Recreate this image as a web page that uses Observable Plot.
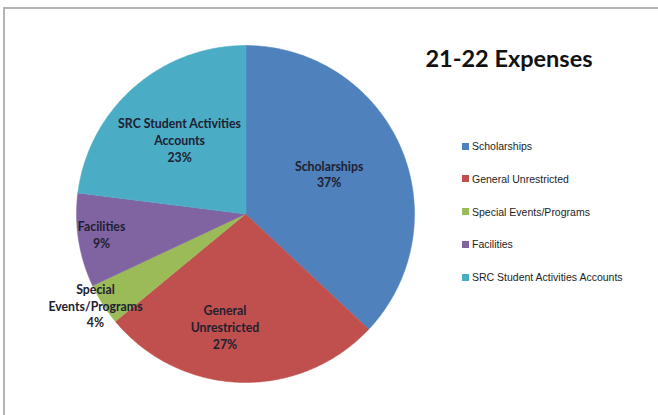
<!DOCTYPE html>
<html>
<head>
<meta charset="utf-8">
<script src="https://cdn.jsdelivr.net/npm/d3@7"></script>
<script src="https://cdn.jsdelivr.net/npm/@observablehq/plot@0.6"></script>
<style>
  html, body { margin: 0; padding: 0; background: #fff; }
  #wrap { position: relative; width: 658px; height: 415px; overflow: hidden; }
  #frame { position: absolute; left: 3px; top: 7px; width: 700px; height: 500px;
           border-left: 2px solid #b4b4b4; border-top: 2px solid #b4b4b4; box-sizing: border-box; }
  #chart { position: absolute; left: 0; top: 0; }
  #title { position: absolute; left: 406px; top: 44px; width: 206px; text-align: center;
           font-family: Lato, "Open Sans", sans-serif; font-weight: bold; font-size: 23.5px; color: #111; }
  #legend { position: absolute; left: 462px; top: 138px; font-family: "Liberation Sans", Arial, sans-serif;
            font-size: 10.5px; color: #222; }
  .item { display: flex; align-items: center; height: 16px; margin-bottom: 16.8px; white-space: nowrap; }
  .sw { width: 7px; height: 7px; margin-right: 3px; }
</style>
</head>
<body>
<div id="wrap">
  <div id="frame"></div>
  <div id="chart"></div>
  <div id="title"></div>
  <div id="legend"></div>
</div>
<script>
const title = "21-22 Expenses";
const categories = ["Scholarships", "General Unrestricted", "Special Events/Programs", "Facilities", "SRC Student Activities Accounts"];
const labels = ["Scholarships", "General\nUnrestricted", "Special\nEvents/Programs", "Facilities", "SRC Student Activities\nAccounts"];
const values = [37, 27, 4, 9, 23];
const colors = ["#4F81BD", "#C0504D", "#9BBB59", "#8064A2", "#4BACC6"];

const data = categories.map((c, i) => ({category: c, label: labels[i], value: values[i]}));
const total = d3.sum(values);
const arcs = d3.pie().value(d => d.value).sort(null)(data);

// polygon points for each slice (unit radius, angle clockwise from top)
const poly = [];
arcs.forEach(a => {
  const c = a.data.category;
  poly.push({category: c, x: 0, y: 0});
  const n = Math.max(2, Math.ceil((a.endAngle - a.startAngle) / (Math.PI / 360)));
  for (let k = 0; k <= n; k++) {
    const t = a.startAngle + (a.endAngle - a.startAngle) * k / n;
    poly.push({category: c, x: Math.sin(t), y: Math.cos(t)});
  }
});

// label placement (Excel-like best fit: small slices pushed outward)
const place = {
  "Scholarships": {r: 0.55, da: -2.5},
  "General Unrestricted": {r: 0.68, da: 8.5},
  "Special Events/Programs": {r: 1.04, da: 1},
  "Facilities": {r: 0.86, da: 1},
  "SRC Student Activities Accounts": {r: 0.59, da: 0}
};
const labelData = arcs.map(a => {
  const p = place[a.data.category];
  const t = (a.startAngle + a.endAngle) / 2 + p.da * Math.PI / 180;
  return {
    text: a.data.label + "\n" + Math.round(a.data.value / total * 100) + "%",
    x: p.r * Math.sin(t), y: p.r * Math.cos(t)
  };
});

const chart = Plot.plot({
  width: 658, height: 415,
  margin: 0,
  x: {domain: [-1, 1], range: [76, 414], axis: null},
  y: {domain: [-1, 1], range: [382, 45], axis: null},
  color: {domain: categories, range: colors},
  style: {background: "transparent"},
  marks: [
    Plot.line(poly, {x: "x", y: "y", z: "category", fill: "category", stroke: "category", strokeWidth: 0.5, curve: "linear-closed"}),
    Plot.text(labelData, {x: "x", y: "y", text: "text", fontSize: 12.3, fontWeight: "bold",
      fontFamily: "Lato, 'Open Sans', sans-serif", fill: "#1e2030", lineHeight: 1.36,
      textAnchor: "middle", lineAnchor: "middle"})
  ]
});
document.getElementById("chart").appendChild(chart);
document.getElementById("title").textContent = title;

const legend = document.getElementById("legend");
categories.forEach((c, i) => {
  const item = document.createElement("div");
  item.className = "item";
  const sw = document.createElement("span");
  sw.className = "sw";
  sw.style.background = colors[i];
  const tx = document.createElement("span");
  tx.textContent = c;
  item.appendChild(sw);
  item.appendChild(tx);
  legend.appendChild(item);
});
</script>
</body>
</html>
